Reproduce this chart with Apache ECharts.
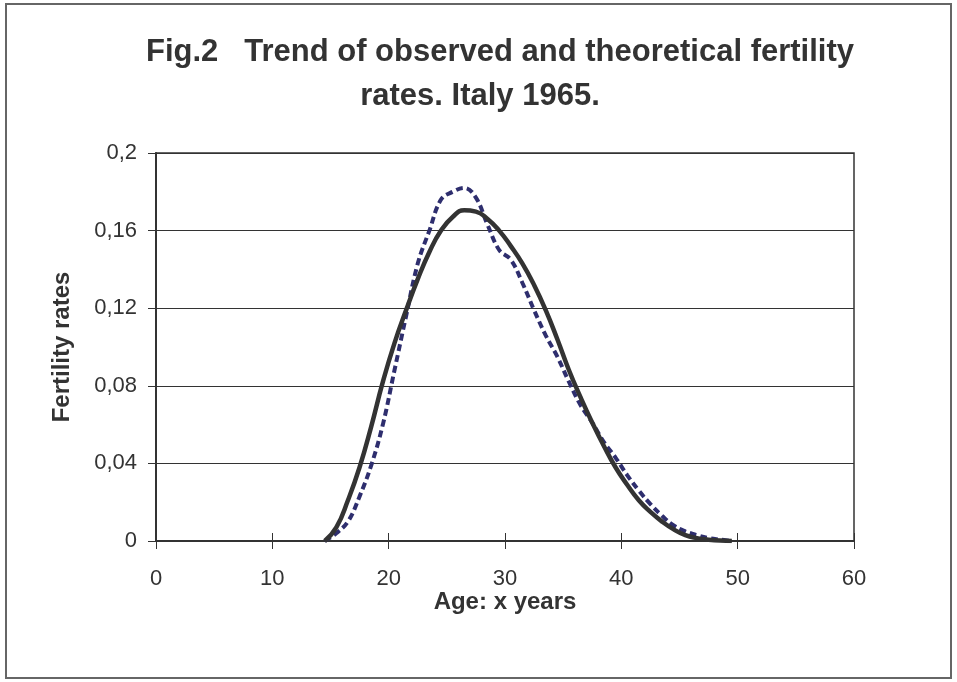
<!DOCTYPE html>
<html>
<head>
<meta charset="utf-8">
<script src="https://cdn.jsdelivr.net/npm/echarts@6/dist/echarts.min.js"></script>
<style>
  html, body { margin: 0; padding: 0; background: #fff; }
  #chart { width: 957px; height: 682px; }
</style>
</head>
<body>
<div id="chart"></div>
<script>
// ages (mid-year of each age class)
const ages = [14.5, 15.5, 16.5, 17.5, 18.5, 19.5, 20.5, 21.5, 22.5, 23.5,
  24.5, 25.5, 26.5, 27.5, 28.5, 29.5, 30.5, 31.5, 32.5, 33.5,
  34.5, 35.5, 36.5, 37.5, 38.5, 39.5, 40.5, 41.5, 42.5, 43.5,
  44.5, 45.5, 46.5, 47.5, 48.5, 49.5];

// observed rates (dashed)
const observed = [0, 0.004, 0.010, 0.023, 0.039, 0.060, 0.088, 0.116, 0.143, 0.160,
  0.176, 0.180, 0.182, 0.177, 0.163, 0.150, 0.145, 0.133, 0.119, 0.106,
  0.095, 0.082, 0.070, 0.061, 0.051, 0.043, 0.034, 0.026, 0.019, 0.013,
  0.008, 0.005, 0.003, 0.0015, 0.0007, 0];

// theoretical rates (solid)
const theoretical = [0, 0.007, 0.021, 0.038, 0.059, 0.082, 0.102, 0.119, 0.135, 0.149,
  0.160, 0.167, 0.1705, 0.1698, 0.166, 0.160, 0.152, 0.143, 0.132, 0.119,
  0.104, 0.088, 0.074, 0.061, 0.049, 0.038, 0.029, 0.021, 0.015, 0.010,
  0.006, 0.003, 0.0015, 0.0007, 0.0002, 0];

const titleLines = ['Fig.2   Trend of observed and theoretical fertility', 'rates. Italy 1965.'];

const font = 'Liberation Sans, Arial, sans-serif';
const chart = echarts.init(document.getElementById('chart'), null, { renderer: 'canvas' });

function pairs(ys) {
  return ages.map((a, i) => [a, ys[i]]);
}

const titleStyle = { fontFamily: font, fontSize: 31, fontWeight: 'bold', fill: '#333', align: 'center', verticalAlign: 'middle' };

chart.setOption({
  animation: false,
  backgroundColor: '#fff',
  graphic: [{
    type: 'rect',
    shape: { x: 6, y: 4, width: 945, height: 674 },
    style: { fill: null, stroke: '#666', lineWidth: 2 }
  }, {
    type: 'text', x: 500, y: 52,
    style: Object.assign({ text: titleLines[0] }, titleStyle)
  }, {
    type: 'text', x: 480, y: 96,
    style: Object.assign({ text: titleLines[1] }, titleStyle)
  }],
  grid: {
    left: 156, right: 103, top: 153, bottom: 141,
    show: true, borderColor: '#333', borderWidth: 1.5
  },
  xAxis: [{
    type: 'value', min: 0, max: 60, interval: 10,
    name: 'Age: x years', nameLocation: 'middle', nameGap: 49, nameMoveOverlap: false,
    nameTextStyle: { fontFamily: font, fontSize: 24, fontWeight: 'bold', color: '#333' },
    axisLine: { show: true, lineStyle: { color: '#333', width: 2 } },
    axisTick: { show: true, length: 8, lineStyle: { color: '#333' } },
    axisLabel: { fontFamily: font, fontSize: 22, color: '#333', margin: 27 },
    splitLine: { show: false }
  }, {
    type: 'value', min: 0, max: 60, interval: 10, position: 'bottom',
    axisLine: { show: false },
    axisTick: { show: true, inside: true, length: 8, lineStyle: { color: '#333' } },
    axisLabel: { show: false },
    splitLine: { show: false }
  }],
  yAxis: {
    type: 'value', min: 0, max: 0.2, interval: 0.04,
    name: 'Fertility rates', nameLocation: 'middle', nameGap: 82, nameMoveOverlap: false,
    nameTextStyle: { fontFamily: font, fontSize: 24, fontWeight: 'bold', color: '#333' },
    axisLine: { show: true, lineStyle: { color: '#333', width: 2 } },
    axisTick: { show: true, length: 8, lineStyle: { color: '#333' } },
    axisLabel: {
      fontFamily: font, fontSize: 22, color: '#333', margin: 19,
      formatter: v => String(Number(v.toFixed(2))).replace('.', ',')
    },
    splitLine: { show: true, lineStyle: { color: '#333', width: 1 } }
  },
  series: [{
    name: 'Observed',
    type: 'line',
    data: pairs(observed),
    smooth: 0.4,
    showSymbol: false,
    lineStyle: { color: '#2e2e6e', width: 4, type: [7, 4] }
  }, {
    name: 'Theoretical',
    type: 'line',
    data: pairs(theoretical),
    smooth: 0.5,
    showSymbol: false,
    lineStyle: { color: '#333', width: 4.5 }
  }]
});
</script>
</body>
</html>
